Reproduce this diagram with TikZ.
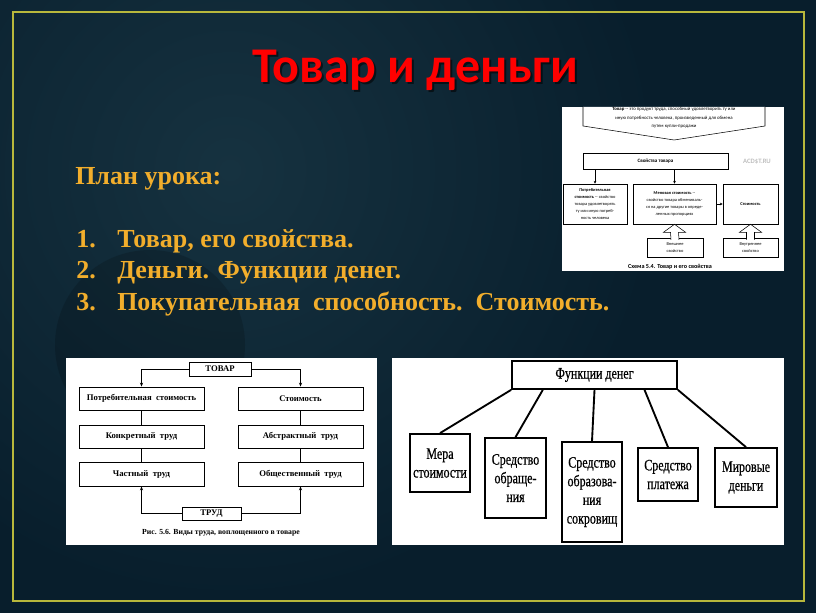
\documentclass[tikz,border=0pt]{standalone}
\usepackage{fontspec}
\setmainfont{Liberation Serif}
\newfontfamily\titlefont{Carlito}
\newfontfamily\schemefont{Carlito}
\newfontfamily\narrowfont[FakeStretch=0.75,FakeBold=0.6]{Liberation Serif}
\usetikzlibrary{arrows.meta,calc}

\definecolor{bgbase}{RGB}{8,30,44}
\definecolor{bglight}{RGB}{22,50,64}
\definecolor{framecol}{RGB}{184,184,60}
\definecolor{plancol}{RGB}{242,174,44}

\tikzset{
  sz/.style 2 args={minimum width=#1*0.75pt, minimum height=#2*0.75pt},
  plan/.style={anchor=base west, inner sep=0pt, text=plancol, font=\bfseries\fontsize{19.5}{22}\selectfont},
  tinybox/.style={draw, fill=white, line width=0.4pt, inner sep=0pt, align=center,
    font=\schemefont\fontsize{3.3}{5.4}\selectfont},
  tinyarr/.style={line width=0.4pt, -{Stealth[length=2.2pt,width=2pt]}},
  blockarr/.style={draw, fill=white, line width=0.4pt},
  labbox/.style={draw, fill=white, line width=0.6pt, inner sep=0pt, align=center,
    font=\bfseries\fontsize{6.5}{8}\selectfont},
  arr/.style={line width=0.6pt, -{Stealth[length=3pt,width=2.4pt]}},
  funcbox/.style={draw, fill=white, line width=1.3pt, inner sep=0pt, align=center,
    font=\narrowfont\fontsize{12}{14}\selectfont},
  funcline/.style={line width=1.4pt}
}

\begin{document}
\begin{tikzpicture}[x=0.75pt, y=-0.75pt]
  \useasboundingbox (0,0) rectangle (816,613);
  % background
  \fill[bgbase] (0,0) rectangle (816,613);
  \begin{scope}
    \clip (0,0) rectangle (816,613);
    \shade[inner color=bglight, outer color=bgbase] (230,170) circle (430);
    \fill[black, opacity=0.16] (150,345) circle (95);
  \end{scope}
  \draw[framecol, line width=1.3pt] (13,12) rectangle (804,601);

  % title
  \node[anchor=base, text=black, opacity=0.55, font=\titlefont\bfseries\fontsize{37.5}{40}\selectfont]
    at (417,85) {Товар и деньги};
  \node[anchor=base, text=red, font=\titlefont\bfseries\fontsize{37.5}{40}\selectfont]
    (title) at (415,83) {Товар и деньги};

  % lesson plan
  \node[plan] (plantitle) at (75,184) {План урока:};
  \foreach \n/\t/\y in {1/{Товар, его свойства.}/247, 2/{Деньги. Функции денег.}/278,
      3/{Покупательная\ \ способность.\ \ Стоимость.}/310} {
    \node[plan] (num\n) at (76,\y) {\n.};
    \node[plan] (item\n) at (117,\y) {\t};
  }

  % picture 1: goods and their properties
  \fill[white] (562,107) rectangle (784,271);
  \draw[blockarr] (583,107) -- (583,126) -- (674,140) -- (765,126) -- (765,107);
  \node[align=center, font=\schemefont\fontsize{3.6}{6.3}\selectfont] (defn) at (674,118)
    {\textbf{Товар} -- это продукт труда, способный удовлетворить ту или\\
     иную потребность человека, произведенный для обмена\\
     путем купли-продажи};
  \node[tinybox, sz={145}{16}, font=\schemefont\bfseries\fontsize{3.8}{5}\selectfont]
    (props) at (655.5,161) {Свойства товара};
  \node[text=black!25, font=\schemefont\bfseries\fontsize{5}{6}\selectfont]
    (mark) at (757,162) {ACD\$T.RU};
  \node[tinybox, sz={64}{40}] (usev) at (595,204)
    {\textbf{Потребительная}\\\textbf{стоимость} -- свойство\\товара удовлетворять\\ту или иную потреб-\\ность человека};
  \node[tinybox, sz={83}{40}] (exchv) at (674.5,204)
    {\textbf{Меновая стоимость} --\\свойство товара обмениваль-\\ся на другие товары в опреде-\\ленных пропорциях};
  \node[tinybox, sz={55}{40}] (valv) at (750.5,204) {\textbf{Стоимость}};
  \node[tinybox, sz={56}{19}] (outer) at (675,248) {Внешнее\\свойство};
  \node[tinybox, sz={55}{19}] (inner) at (750.5,248) {Внутреннее\\свойство};
  \draw[tinyarr] (props.south -| usev) -- (usev.north);
  \draw[tinyarr] (props.south -| exchv) -- (exchv.north);
  \draw[tinyarr] (exchv.east) -- (valv.west);
  \foreach \lo/\hi in {outer/exchv, inner/valv} {
    \draw[blockarr] ($(\lo.north)+(-4,1.5)$) -- ($(\hi.south)+(-4,8)$) -- ($(\hi.south)+(-11,8)$)
      -- (\hi.south) -- ($(\hi.south)+(11,8)$) -- ($(\hi.south)+(4,8)$) -- ($(\lo.north)+(4,1.5)$);
  }
  \node[font=\schemefont\bfseries\fontsize{4.6}{5}\selectfont] (capA) at (670,267)
    {Схема 5.4. Товар и его свойства};

  % picture 2: kinds of labour
  \fill[white] (66,358) rectangle (377,545);
  \node[labbox, sz={62}{14}] (goods) at (220,369) {ТОВАР};
  \node[labbox, sz={125}{23}] (usevalue) at (141.5,398.5) {Потребительная\ \ стоимость};
  \node[labbox, sz={125}{23}] (concrete) at (141.5,436.5) {Конкретный\ \ труд};
  \node[labbox, sz={125}{24}] (private) at (141.5,474) {Частный\ \ труд};
  \node[labbox, sz={125}{23}] (value) at (300.5,398.5) {Стоимость};
  \node[labbox, sz={125}{23}] (abstract) at (300.5,436.5) {Абстрактный\ \ труд};
  \node[labbox, sz={125}{24}] (social) at (300.5,474) {Общественный\ \ труд};
  \node[labbox, sz={59}{13}] (labour) at (211.5,513.5) {ТРУД};
  \draw[arr] (goods.west) -| (usevalue.north);
  \draw[arr] (goods.east) -| (value.north);
  \draw[line width=0.6pt] (usevalue) -- (concrete) -- (private);
  \draw[line width=0.6pt] (value) -- (abstract) -- (social);
  \draw[arr] (labour.west) -| (private.south);
  \draw[arr] (labour.east) -| (social.south);
  \node[font=\bfseries\fontsize{5.8}{7}\selectfont] (capB) at (221,533)
    {Рис. 5.6. Виды труда, воплощенного в товаре};

  % picture 3: functions of money
  \fill[white] (392,358) rectangle (784,545);
  \node[funcbox, sz={165}{28}] (func) at (594.5,375) {Функции денег};
  \node[funcbox, sz={60}{58}] (measure) at (440,463) {Мера\\стоимости};
  \node[funcbox, sz={61}{80}] (medium) at (515.5,478) {Средство\\обраще-\\ния};
  \node[funcbox, sz={60}{100}] (hoard) at (592,492) {Средство\\образова-\\ния\\сокровищ};
  \node[funcbox, sz={60}{53}] (payment) at (668,474.5) {Средство\\платежа};
  \node[funcbox, sz={62}{59}] (world) at (746,477.5) {Мировые\\деньги};
  \draw[funcline] (func.south west) -- (measure.north);
  \draw[funcline] ($(func.south west)!0.19!(func.south east)$) -- (medium.north);
  \draw[funcline] (func.south) -- (hoard.north);
  \draw[funcline] ($(func.south west)!0.8!(func.south east)$) -- (payment.north);
  \draw[funcline] (func.south east) -- (world.north);
\end{tikzpicture}
\end{document}
